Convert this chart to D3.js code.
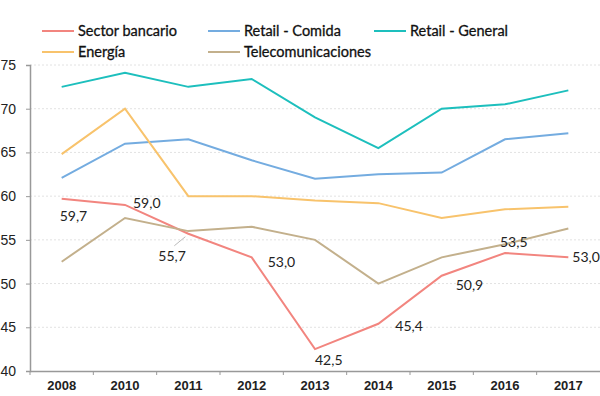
<!DOCTYPE html>
<html>
<head>
<meta charset="utf-8">
<script src="https://cdn.jsdelivr.net/npm/d3@7"></script>
<style>
  body { margin: 0; background: #fff; }
  svg { font-family: Lato, "Open Sans", sans-serif; }
</style>
</head>
<body>
<svg id="chart" width="600" height="396"></svg>
<script>
// data
var years = ["2008", "2010", "2011", "2012", "2013", "2014", "2015", "2016", "2017"];
var bancario = [59.7, 59.0, 55.7, 53.0, 42.5, 45.4, 50.9, 53.5, 53.0];
var comida = [62.1, 66.0, 66.5, 64.1, 62.0, 62.5, 62.7, 66.5, 67.2];
var general = [72.5, 74.1, 72.5, 73.4, 69.0, 65.5, 70.0, 70.5, 72.1];
var energia = [64.8, 70.0, 60.0, 60.0, 59.5, 59.2, 57.5, 58.5, 58.8];
var telecom = [52.5, 57.5, 56.0, 56.5, 55.0, 50.0, 53.0, 54.5, 56.3];
var yTicks = [40, 45, 50, 55, 60, 65, 70, 75];

var series = [
  { name: "Sector bancario", values: bancario, color: "#f2857f" },
  { name: "Retail - Comida", values: comida, color: "#74ace0" },
  { name: "Retail - General", values: general, color: "#1dbfbd" },
  { name: "Energía", values: energia, color: "#f8c36c" },
  { name: "Telecomunicaciones", values: telecom, color: "#c3b08c" }
];

var svg = d3.select("#chart");

var x = d3.scaleBand().domain(years).range([30, 600]);
var y = d3.scaleLinear().domain([40, 75]).range([371, 65]);

// grid
svg.append("g").selectAll("line")
  .data(yTicks.slice(1))
  .enter().append("line")
  .attr("x1", 30).attr("x2", 600)
  .attr("y1", function(d) { return y(d); })
  .attr("y2", function(d) { return y(d); })
  .attr("stroke", "#e2e2e2")
  .attr("stroke-dasharray", "2,2");

// y axis
var yAxis = svg.append("g")
  .attr("transform", "translate(30,0)")
  .call(d3.axisLeft(y).tickValues(yTicks).tickSize(4).tickPadding(10));
yAxis.select(".domain").attr("stroke", "#999").attr("stroke-width", 1.5);
yAxis.selectAll(".tick line").attr("stroke", "#999");
yAxis.selectAll("text").attr("font-size", 14).attr("fill", "#222");

// x axis
var xAxis = svg.append("g")
  .attr("transform", "translate(0,371)")
  .call(d3.axisBottom(x).tickSize(0).tickPadding(10));
xAxis.select(".domain").attr("stroke", "#999").attr("stroke-width", 1.5);
xAxis.selectAll("text").attr("font-size", 13).attr("font-weight", "bold").attr("fill", "#222");
// ticks at band edges
svg.append("g").selectAll("line")
  .data(years)
  .enter().append("line")
  .attr("x1", function(d) { return x(d); })
  .attr("x2", function(d) { return x(d); })
  .attr("y1", 371).attr("y2", 375)
  .attr("stroke", "#999");

var line = d3.line()
  .x(function(d, i) { return x(years[i]) + x.bandwidth() / 2; })
  .y(function(d) { return y(d); });

svg.append("g").selectAll("path")
  .data(series)
  .enter().append("path")
  .attr("d", function(d) { return line(d.values); })
  .attr("fill", "none")
  .attr("stroke", function(d) { return d.color; })
  .attr("stroke-width", 2);

// labels for Sector bancario
var offs = [[-2, 22], [8, 3], [-30, 27], [16, 10], [0, 16], [17, 7], [14, 14], [-5, -6], [4, 5]];
var cx = function(i) { return x(years[i]) + x.bandwidth() / 2; };
svg.append("line")
  .attr("x1", cx(2) - 14).attr("y1", y(bancario[2]) + 12)
  .attr("x2", cx(2) - 3).attr("y2", y(bancario[2]) + 3)
  .attr("stroke", "#bbb");
svg.append("g").selectAll("text")
  .data(bancario)
  .enter().append("text")
  .attr("x", function(d, i) { return cx(i) + offs[i][0]; })
  .attr("y", function(d, i) { return y(d) + offs[i][1]; })
  .attr("font-size", 14)
  .attr("fill", "#222")
  .text(function(d) { return d.toFixed(1).replace(".", ","); });

// legend
var legend = svg.append("g").selectAll("g")
  .data(series)
  .enter().append("g")
  .attr("transform", function(d, i) {
    return "translate(" + [42 + (i % 3) * 166, 31 + Math.floor(i / 3) * 21] + ")";
  });
legend.append("line")
  .attr("x1", 0).attr("x2", 32)
  .attr("stroke", function(d) { return d.color; })
  .attr("stroke-width", 2);
legend.append("text")
  .attr("x", 36).attr("dy", "0.35em")
  .attr("font-size", 14.5)
  .attr("fill", "#111")
  .attr("stroke", "#111")
  .attr("stroke-width", 0.3)
  .text(function(d) { return d.name; });
</script>
</body>
</html>
